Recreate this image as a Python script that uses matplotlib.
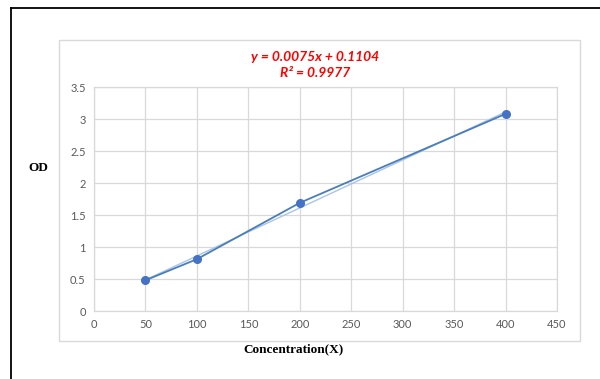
import matplotlib.pyplot as plt
from matplotlib.lines import Line2D
from matplotlib.patches import Rectangle
import numpy as np

# data
concentration = [50, 100, 200, 400]
od = [0.48, 0.81, 1.69, 3.08]
slope = 0.0075
intercept = 0.1104
x_ticks = [0, 50, 100, 150, 200, 250, 300, 350, 400, 450]
y_ticks = [0, 0.5, 1, 1.5, 2, 2.5, 3, 3.5]
y_tick_labels = ['0', '0.5', '1', '1.5', '2', '2.5', '3', '3.5']

W, H = 600, 379
fig = plt.figure(figsize=(6, 3.79), dpi=100)

# outer black frame (top and left only visible)
fig.add_artist(Line2D([11 / W, 1], [1 - 8 / H, 1 - 8 / H], color='black', lw=1.3))
fig.add_artist(Line2D([11 / W, 11 / W], [0, 1 - 8 / H], color='black', lw=1.3))

# light chart box
fig.add_artist(Rectangle((59 / W, 1 - 341 / H), (580 - 59) / W, (341 - 40) / H,
                         fill=False, edgecolor='#d9d9d9', lw=1))

ax = fig.add_axes([94 / W, 1 - 311 / H, (557 - 94) / W, (311 - 87) / H])

# trendline
xt = np.array([concentration[0], concentration[-1]])
ax.plot(xt, slope * xt + intercept, color='#a9c4ea', lw=1.0, zorder=2)

ax.plot(concentration, od, color='#4a7ebb', lw=1.3, marker='o', markersize=5.5,
        markerfacecolor='#4472c4', markeredgecolor='#4472c4', zorder=3)

ax.set_xlim(0, 450)
ax.set_ylim(0, 3.5)
ax.set_xticks(x_ticks)
ax.set_yticks(y_ticks)
ax.set_yticklabels(y_tick_labels)
ax.grid(True, color='#d9d9d9', lw=0.9)
ax.set_axisbelow(True)
for s in ax.spines.values():
    s.set_color('#d9d9d9')
    s.set_linewidth(0.9)
ax.tick_params(length=0, labelsize=8, labelcolor='#595959', pad=6)
for lab in ax.get_xticklabels() + ax.get_yticklabels():
    lab.set_family('Lato')

fig.text(315 / W, 1 - 57 / H, 'y = 0.0075x + 0.1104', color='#ff0000', fontsize=10,
         fontweight='bold', fontstyle='italic', family='Lato', ha='center', va='center')
fig.text(315 / W, 1 - 73 / H, 'R² = 0.9977', color='#ff0000', fontsize=10,
         fontweight='bold', fontstyle='italic', family='Lato', ha='center', va='center')

fig.text(38 / W, 1 - 168 / H, 'OD', fontsize=9.5, fontweight='bold',
         family='Liberation Serif', ha='center', va='center')
fig.text(293 / W, 1 - 349 / H, 'Concentration(X)', fontsize=9.5, fontweight='bold',
         family='Liberation Serif', ha='center', va='center')

fig.savefig('out.png', dpi=100)
